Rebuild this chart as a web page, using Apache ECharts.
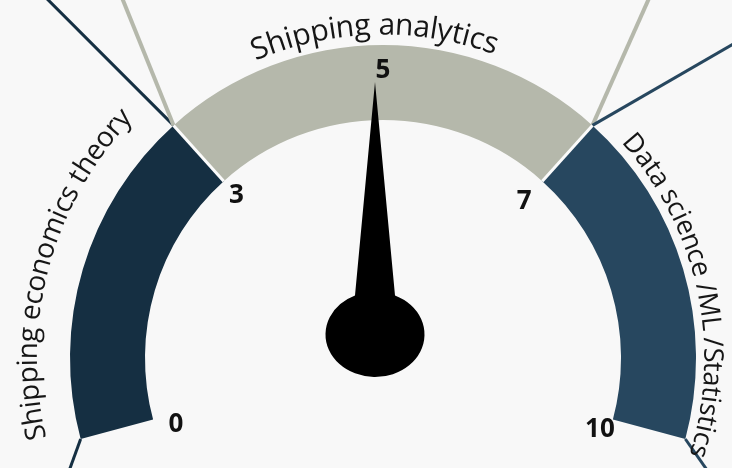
<!DOCTYPE html>
<html>
<head>
<meta charset="utf-8">
<script src="https://cdn.jsdelivr.net/npm/echarts@6/dist/echarts.min.js"></script>
<style>
html,body{margin:0;padding:0;background:#f8f8f8;}
#c{width:732px;height:468px;}
</style>
</head>
<body>
<div id="c"></div>
<script>
// ---- data ----
const bandNames = ['Shipping economics theory', 'Shipping analytics', 'Data science /ML /Statistics'];
const bandEdges = [0, 3, 7, 10];
const bandColors = ['#152f42', '#b5b8ab', '#27475f'];
const tickValues = [0, 3, 7, 10];
const centerTickValue = 5;
const needleValue = 5;
const gaugeMin = 0;
const gaugeMax = 10;

// ---- layout ----
const CX = 383, CY = 358, R_OUT = 313, BAND_W = 75;
const START = 195, END = -15;
const FONT = '"Open Sans", "Noto Sans", sans-serif';
const BG = '#f8f8f8';
const tickRadius = [222, 230, 222, 240];
const TICK_DY = 9;

const frac = v => (v - gaugeMin) / (gaugeMax - gaugeMin);
const angleOf = v => START - frac(v) * (START - END);

// curved name labels: [center angle, char-center radius, font size]
const nameLayout = [
  { ang: 164.8, r: 354, size: 28 },
  { ang: 91.5, r: 332, size: 30 },
  { ang: 12.3, r: 329, size: 27 }
];

const hidden = {
  axisLine: { show: false, lineStyle: { width: 0 } },
  splitLine: { show: false, length: 0, distance: 0 },
  axisTick: { show: false },
  axisLabel: { show: false },
  pointer: { show: false },
  anchor: { show: false },
  title: { show: false },
  detail: { show: false }
};

const measureCtx = document.createElement('canvas').getContext('2d');

function arcTextSeries(text, lay) {
  measureCtx.font = lay.size + 'px ' + FONT;
  const L = measureCtx.measureText(text).width;
  const N = 500;
  const map = {};
  const chars = Array.from(text);
  for (let k = 0; k < chars.length; k++) {
    if (chars[k] === ' ') continue;
    const before = measureCtx.measureText(chars.slice(0, k).join('')).width;
    const w = measureCtx.measureText(chars[k]).width;
    const idx = Math.round((before + w / 2) / L * N);
    map[idx] = chars[k];
  }
  const spanDeg = L / lay.r * 180 / Math.PI;
  return Object.assign({}, hidden, {
    type: 'gauge',
    center: [CX, CY],
    radius: lay.r,
    startAngle: lay.ang + spanDeg / 2,
    endAngle: lay.ang - spanDeg / 2,
    min: 0, max: N, splitNumber: N,
    axisLabel: {
      show: true, distance: 0, rotate: 'tangential',
      fontSize: lay.size, fontFamily: FONT, color: '#161616',
      formatter: v => map[v] || ''
    },
    data: []
  });
}

const bandStops = bandColors.map((c, i) => [frac(bandEdges[i + 1]), c]);

const series = [];
// bands
series.push(Object.assign({}, hidden, {
  type: 'gauge', center: [CX, CY], radius: R_OUT,
  startAngle: START, endAngle: END, min: gaugeMin, max: gaugeMax,
  axisLine: { show: true, lineStyle: { width: BAND_W, color: bandStops } },
  data: []
}));
// separators between bands
series.push(Object.assign({}, hidden, {
  type: 'gauge', center: [CX, CY], radius: R_OUT,
  startAngle: angleOf(bandEdges[1]), endAngle: angleOf(bandEdges[2]),
  min: bandEdges[1], max: bandEdges[2], splitNumber: 1,
  splitLine: { show: true, length: BAND_W, distance: 0, lineStyle: { color: '#fbfbfb', width: 3 } },
  data: []
}));
// tick labels 0,3,7,10
tickValues.forEach((tv, i) => {
  series.push(Object.assign({}, hidden, {
    type: 'gauge', center: [CX, CY + TICK_DY], radius: tickRadius[i],
    startAngle: START, endAngle: END, min: gaugeMin, max: gaugeMax, splitNumber: 10,
    axisLabel: {
      show: true, distance: 0, fontSize: 26, fontWeight: 'bold', fontFamily: FONT, color: '#111',
      formatter: v => v === tv ? String(v) : ''
    },
    data: []
  }));
});
// center tick label 5
series.push(Object.assign({}, hidden, {
  type: 'gauge', center: [CX, CY], radius: 300,
  startAngle: START, endAngle: END, min: gaugeMin, max: gaugeMax, splitNumber: 2,
  axisLabel: {
    show: true, distance: 0, fontSize: 26, fontWeight: 'bold', fontFamily: FONT, color: '#111',
    formatter: v => v === centerTickValue ? String(v) : ''
  },
  data: []
}));
// names
bandNames.forEach((t, i) => series.push(arcTextSeries(t, nameLayout[i])));
// needle
series.push(Object.assign({}, hidden, {
  type: 'gauge', center: [CX, CY], radius: R_OUT,
  startAngle: START, endAngle: END, min: gaugeMin, max: gaugeMax,
  pointer: {
    show: true,
    icon: 'path://M49.5 0 L69.5 213.1 A49.5 42.5 0 1 1 29.5 213.1 Z',
    width: 99, length: 295, offsetCenter: [-8, 19],
    itemStyle: { color: '#000' }
  },
  data: [{ value: needleValue }]
}));

// callout lines from band corners
const callouts = [
  { v: bandEdges[0], dir: 250, color: bandColors[0], w: 3 },
  { v: bandEdges[1], dir: 135, color: bandColors[0], w: 3 },
  { v: bandEdges[1], dir: 112, color: bandColors[1], w: 4 },
  { v: bandEdges[2], dir: 66, color: bandColors[1], w: 4 },
  { v: bandEdges[2], dir: 30, color: bandColors[2], w: 3 },
  { v: bandEdges[3], dir: -55, color: bandColors[2], w: 3 }
];
const rad = d => d * Math.PI / 180;
const graphic = callouts.map(c => {
  const a = rad(angleOf(c.v));
  const x1 = CX + R_OUT * Math.cos(a), y1 = CY - R_OUT * Math.sin(a);
  const x2 = x1 + 500 * Math.cos(rad(c.dir)), y2 = y1 - 500 * Math.sin(rad(c.dir));
  return { type: 'line', z: -1, silent: true, shape: { x1, y1, x2, y2 }, style: { stroke: c.color, lineWidth: c.w } };
});

const chart = echarts.init(document.getElementById('c'), null, { renderer: 'canvas' });
chart.setOption({
  animation: false,
  backgroundColor: BG,
  graphic: graphic,
  series: series
});
</script>
</body>
</html>
